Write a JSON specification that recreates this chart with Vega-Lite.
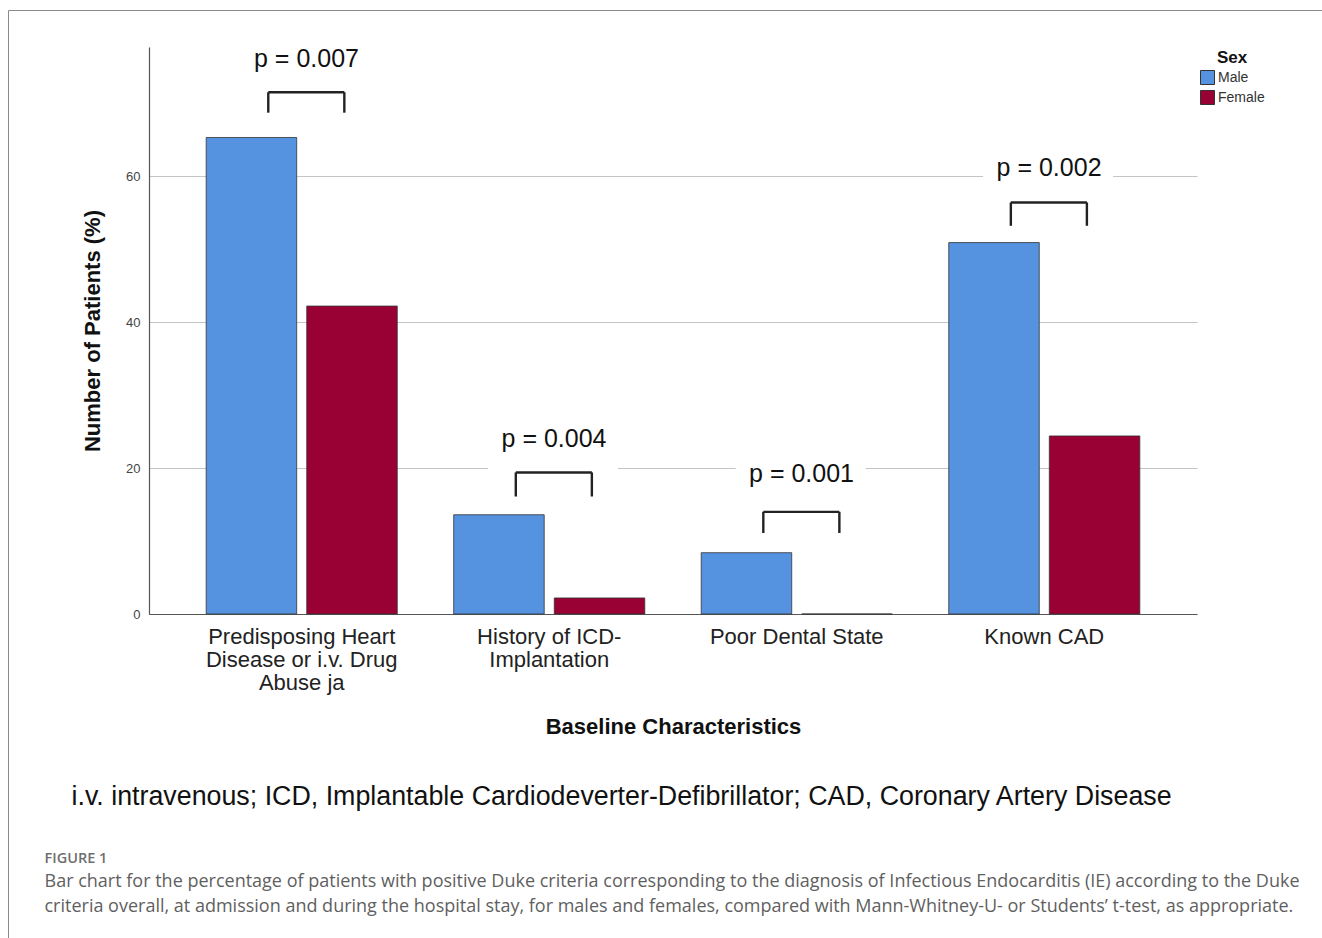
{
  "$schema": "https://vega.github.io/schema/vega-lite/v6.json",
  "background": "white",
  "autosize": {"type": "none"},
  "padding": {"left": 8, "top": 10, "right": -2, "bottom": -2},
  "width": 1316,
  "height": 930,
  "config": {
    "font": "Liberation Sans",
    "view": {"stroke": "#8a8a8a", "strokeWidth": 1}
  },
  "datasets": {
    "bars": [
      {"characteristic": "Predisposing Heart Disease or i.v. Drug Abuse ja", "sex": "Male", "percent": 65.3},
      {"characteristic": "Predisposing Heart Disease or i.v. Drug Abuse ja", "sex": "Female", "percent": 42.2},
      {"characteristic": "History of ICD-Implantation", "sex": "Male", "percent": 13.6},
      {"characteristic": "History of ICD-Implantation", "sex": "Female", "percent": 2.2},
      {"characteristic": "Poor Dental State", "sex": "Male", "percent": 8.4},
      {"characteristic": "Poor Dental State", "sex": "Female", "percent": 0},
      {"characteristic": "Known CAD", "sex": "Male", "percent": 50.9},
      {"characteristic": "Known CAD", "sex": "Female", "percent": 24.4}
    ],
    "pvalues": [
      {"characteristic": "Predisposing Heart Disease or i.v. Drug Abuse ja", "label": "p = 0.007", "labelAt": 75.0, "bracketTop": 71.5, "bracketBottom": 68.7, "boxLow": 73.5, "boxHigh": 79.0},
      {"characteristic": "History of ICD-Implantation", "label": "p = 0.004", "labelAt": 22.9, "bracketTop": 19.4, "bracketBottom": 16.1, "boxLow": 19.7, "boxHigh": 26.5},
      {"characteristic": "Poor Dental State", "label": "p = 0.001", "labelAt": 18.1, "bracketTop": 14.0, "bracketBottom": 11.1, "boxLow": 16.0, "boxHigh": 23.0},
      {"characteristic": "Known CAD", "label": "p = 0.002", "labelAt": 60.0, "bracketTop": 56.4, "bracketBottom": 53.2, "boxLow": 58.6, "boxHigh": 64.5}
    ]
  },
  "resolve": {"axis": {"x": "independent"}},
  "layer": [
    {
      "data": {"name": "bars"},
      "mark": {"type": "bar", "stroke": "#333333", "strokeWidth": 0.8},
      "encoding": {
        "x": {
          "field": "characteristic",
          "type": "nominal",
          "sort": ["Predisposing Heart Disease or i.v. Drug Abuse ja", "History of ICD-Implantation", "Poor Dental State", "Known CAD"],
          "scale": {"range": [141, 1189], "paddingInner": 0.228, "paddingOuter": 0.231},
          "axis": {
            "title": "Baseline Characteristics",
            "orient": "bottom",
            "offset": -326,
            "labelAngle": 0,
            "labelFontSize": 22,
            "labelLineHeight": 23,
            "labelColor": "#222222",
            "labelPadding": 12,
            "labelLimit": 400,
            "labelExpr": "datum.value == 'Predisposing Heart Disease or i.v. Drug Abuse ja' ? ['Predisposing Heart', 'Disease or i.v. Drug', 'Abuse ja'] : datum.value == 'History of ICD-Implantation' ? ['History of ICD-', 'Implantation'] : datum.value",
            "ticks": false,
            "tickSize": 0,
            "domainColor": "#555555",
            "domainWidth": 1.2,
            "titleFontSize": 22,
            "titleFontWeight": "bold",
            "titleColor": "#111111",
            "titlePadding": 23
          }
        },
        "xOffset": {
          "field": "sex",
          "type": "nominal",
          "sort": ["Male", "Female"],
          "scale": {"paddingInner": 0.1, "paddingOuter": 0}
        },
        "y": {
          "field": "percent",
          "type": "quantitative",
          "title": "Number of Patients (%)",
          "scale": {"domain": [0, 77.7], "range": [604, 37], "nice": false},
          "axis": {
            "offset": -141,
            "values": [0, 20, 40, 60],
            "grid": true,
            "gridColor": "#c4c4c4",
            "gridWidth": 1,
            "domainColor": "#555555",
            "domainWidth": 1.2,
            "ticks": false,
            "tickSize": 0,
            "labelFontSize": 13,
            "labelColor": "#444444",
            "labelPadding": 9,
            "titleFontSize": 22,
            "titleFontWeight": "bold",
            "titleColor": "#111111",
            "titlePadding": 21
          }
        },
        "color": {
          "field": "sex",
          "type": "nominal",
          "sort": ["Male", "Female"],
          "scale": {"domain": ["Male", "Female"], "range": ["#5592e0", "#990033"]},
          "legend": {
            "title": "Sex",
            "orient": "none",
            "legendX": 1192,
            "legendY": 40,
            "symbolType": "square",
            "symbolSize": 196,
            "symbolStrokeColor": "#333333",
            "symbolStrokeWidth": 1,
            "symbolOpacity": 1,
            "labelFontSize": 14,
            "labelColor": "#333333",
            "labelOffset": 3,
            "rowPadding": 1,
            "titleFontSize": 17,
            "titleFontWeight": "bold",
            "titleColor": "#111111",
            "titleAnchor": "middle",
            "titlePadding": 3
          }
        }
      }
    },
    {
      "data": {"name": "pvalues"},
      "mark": {"type": "rect", "color": "white"},
      "encoding": {
        "x": {
          "field": "characteristic",
          "type": "nominal",
          "bandPosition": 0.18,
          "sort": ["Predisposing Heart Disease or i.v. Drug Abuse ja", "History of ICD-Implantation", "Poor Dental State", "Known CAD"],
          "axis": {
            "orient": "bottom",
            "offset": 0,
            "domain": false,
            "labels": false,
            "ticks": false,
            "grid": false,
            "title": "i.v. intravenous; ICD, Implantable Cardiodeverter-Defibrillator; CAD, Coronary Artery Disease",
            "titleFont": "Liberation Sans",
            "titleFontSize": 26.8,
            "titleFontWeight": "normal",
            "titleColor": "#111111",
            "titleAlign": "left",
            "titleBaseline": "alphabetic",
            "titleX": 63,
            "titleY": -135.5,
            "titleLimit": 1300
          }
        },
        "x2": {"field": "characteristic", "bandPosition": 0.86},
        "y": {"field": "boxLow", "type": "quantitative", "title": "Number of Patients (%)"},
        "y2": {"field": "boxHigh"}
      }
    },
    {
      "data": {"name": "pvalues"},
      "mark": {"type": "rule", "color": "#222222", "strokeWidth": 2.4},
      "encoding": {
        "x": {
          "field": "characteristic",
          "type": "nominal",
          "bandPosition": 0.325,
          "sort": ["Predisposing Heart Disease or i.v. Drug Abuse ja", "History of ICD-Implantation", "Poor Dental State", "Known CAD"],
          "axis": {
            "orient": "bottom",
            "offset": 0,
            "domain": false,
            "labels": false,
            "ticks": false,
            "grid": false,
            "title": "FIGURE 1",
            "titleFont": "Open Sans",
            "titleFontSize": 14.5,
            "titleFontWeight": 600,
            "titleColor": "#6e6e6e",
            "titleAlign": "left",
            "titleBaseline": "alphabetic",
            "titleX": 36,
            "titleY": -77.2,
            "titleLimit": 1300
          }
        },
        "x2": {"field": "characteristic", "bandPosition": 0.723},
        "y": {"field": "bracketTop", "type": "quantitative", "title": "Number of Patients (%)"}
      }
    },
    {
      "data": {"name": "pvalues"},
      "mark": {"type": "rule", "color": "#222222", "strokeWidth": 2.4},
      "encoding": {
        "x": {
          "field": "characteristic",
          "type": "nominal",
          "bandPosition": 0.325,
          "sort": ["Predisposing Heart Disease or i.v. Drug Abuse ja", "History of ICD-Implantation", "Poor Dental State", "Known CAD"],
          "axis": {
            "orient": "bottom",
            "offset": 0,
            "domain": false,
            "labels": false,
            "ticks": false,
            "grid": false,
            "title": [
              "Bar chart for the percentage of patients with positive Duke criteria corresponding to the diagnosis of Infectious Endocarditis (IE) according to the Duke",
              "criteria overall, at admission and during the hospital stay, for males and females, compared with Mann-Whitney-U- or Students\u2019 t-test, as appropriate."
            ],
            "titleFont": "Open Sans",
            "titleFontSize": 18,
            "titleFontWeight": "normal",
            "titleColor": "#5f5f5f",
            "titleLineHeight": 25,
            "titleAlign": "left",
            "titleBaseline": "alphabetic",
            "titleX": 36,
            "titleY": -53.5,
            "titleLimit": 1300
          }
        },
        "y": {"field": "bracketTop", "type": "quantitative", "title": "Number of Patients (%)"},
        "y2": {"field": "bracketBottom"}
      }
    },
    {
      "data": {"name": "pvalues"},
      "mark": {"type": "rule", "color": "#222222", "strokeWidth": 2.4},
      "encoding": {
        "x": {
          "field": "characteristic",
          "type": "nominal",
          "bandPosition": 0.723,
          "sort": ["Predisposing Heart Disease or i.v. Drug Abuse ja", "History of ICD-Implantation", "Poor Dental State", "Known CAD"],
          "axis": null
        },
        "y": {"field": "bracketTop", "type": "quantitative", "title": "Number of Patients (%)"},
        "y2": {"field": "bracketBottom"}
      }
    },
    {
      "data": {"name": "pvalues"},
      "mark": {"type": "text", "fontSize": 25, "color": "#111111", "baseline": "alphabetic", "align": "center"},
      "encoding": {
        "x": {
          "field": "characteristic",
          "type": "nominal",
          "bandPosition": 0.525,
          "sort": ["Predisposing Heart Disease or i.v. Drug Abuse ja", "History of ICD-Implantation", "Poor Dental State", "Known CAD"],
          "axis": null
        },
        "y": {"field": "labelAt", "type": "quantitative", "title": "Number of Patients (%)"},
        "text": {"field": "label"}
      }
    }
  ]
}
